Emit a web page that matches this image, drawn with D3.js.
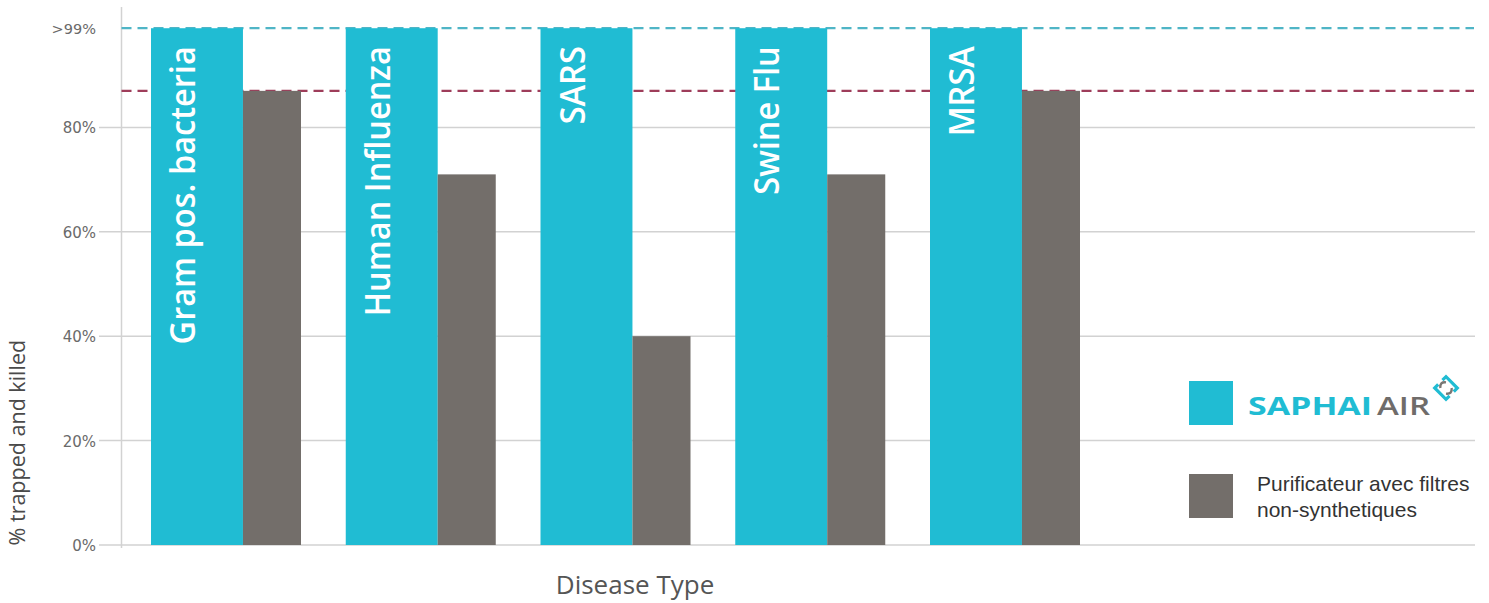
<!DOCTYPE html>
<html>
<head>
<meta charset="utf-8">
<script src="https://cdn.jsdelivr.net/npm/d3@7"></script>
<style>
  html, body { margin: 0; padding: 0; background: #fff; }
  svg { display: block; }
</style>
</head>
<body>
<svg id="chart" width="1489" height="603"></svg>
<script>
// ---- data ----
const categories = ["Gram pos. bacteria", "Human Influenza", "SARS", "Swine Flu", "MRSA"];
const saphaiValues = [99, 99, 99, 99, 99];
const otherValues = [87, 71, 40, 71, 87];
const tickValues = [0, 20, 40, 60, 80, 99];
const tickLabels = ["0%", "20%", "40%", "60%", "80%", ">99%"];
const refLines = [99, 87];
const seriesNames = ["SAPHAI AIR", "Purificateur avec filtres non-synthetiques"];
const yTitle = "% trapped and killed";
const xTitle = "Disease Type";

// ---- styles ----
const CYAN = "#20bcd3", GRAY = "#736e6a", GRID = "#d2d2d2";
const refColors = ["#4fb5c6", "#9e3d5a"];
const FONT = "'Open Sans', sans-serif";

const svg = d3.select("#chart");
const y = d3.scaleLinear().domain([0, 100]).range([545, 23]);
const x = d3.scaleBand().domain(categories).range([151, 1080]).paddingInner(0.2298).paddingOuter(0);
const cyanFrac = 0.613;
const cyanW = x.bandwidth() * cyanFrac;
const grayW = x.bandwidth() - cyanW;

// gridlines + tick marks (extend left of the axis)
const grid = svg.append("g");
grid.selectAll("line")
  .data(tickValues.filter(v => v < 99))
  .join("line")
  .attr("x1", 99).attr("x2", 1475)
  .attr("y1", d => y(d)).attr("y2", d => y(d))
  .attr("stroke", GRID).attr("stroke-width", 1.5);

// vertical axis line
svg.append("line")
  .attr("x1", 121.5).attr("x2", 121.5)
  .attr("y1", 7).attr("y2", y(0) + 3)
  .attr("stroke", GRID).attr("stroke-width", 1.5);

// tick labels
const yAxis = d3.axisLeft(y).tickValues(tickValues)
  .tickFormat((d, i) => tickLabels[i]).tickSize(0).tickPadding(0);
const gy = svg.append("g").attr("transform", "translate(96,0)").call(yAxis);
gy.select(".domain").remove();
gy.selectAll("text")
  .attr("font-family", "'DejaVu Sans', sans-serif").attr("font-size", 15)
  .attr("fill", "#6a6a6a").attr("dy", "0.36em");
gy.selectAll(".tick text").filter((d) => d === 99).attr("font-size", 14.5);

// dashed reference lines
svg.append("g").selectAll("line")
  .data(refLines)
  .join("line")
  .attr("x1", 121.5).attr("x2", 1474)
  .attr("y1", d => y(d)).attr("y2", d => y(d))
  .attr("stroke", (d, i) => refColors[i])
  .attr("stroke-width", 2.2)
  .attr("stroke-dasharray", "10,6");

// bars
const groups = svg.append("g").selectAll("g")
  .data(categories)
  .join("g");

groups.append("rect")
  .attr("x", d => x(d))
  .attr("width", cyanW)
  .attr("y", (d, i) => y(saphaiValues[i]))
  .attr("height", (d, i) => y(0) - y(saphaiValues[i]))
  .attr("fill", CYAN);

groups.append("rect")
  .attr("x", d => x(d) + cyanW)
  .attr("width", grayW)
  .attr("y", (d, i) => y(otherValues[i]))
  .attr("height", (d, i) => y(0) - y(otherValues[i]))
  .attr("fill", GRAY);

// rotated labels inside cyan bars
groups.append("text")
  .attr("transform", (d, i) => `translate(${x(d) + cyanW * 0.48},${y(saphaiValues[i]) + 18}) rotate(-90) scale(0.93,1)`)
  .attr("text-anchor", "end")
  .attr("font-family", FONT)
  .attr("font-weight", 600)
  .attr("font-size", 35)
  .attr("fill", "#ffffff")
  .text(d => d);

// axis titles
svg.append("text")
  .attr("transform", `translate(25,${(y(0) + y(40)) / 2 + 2}) rotate(-90)`)
  .attr("text-anchor", "middle")
  .attr("font-family", FONT).attr("font-size", 21.5)
  .attr("fill", "#4a4a4a")
  .text(yTitle);

svg.append("text")
  .attr("x", 635).attr("y", 594)
  .attr("text-anchor", "middle")
  .attr("font-family", FONT).attr("font-size", 26)
  .attr("fill", "#555")
  .text(xTitle);

// legend
const lg = svg.append("g");
lg.append("rect").attr("x", 1189).attr("y", 381).attr("width", 44).attr("height", 44).attr("fill", CYAN);
lg.append("rect").attr("x", 1189).attr("y", 474).attr("width", 44).attr("height", 44).attr("fill", GRAY);

const [brand1, brand2] = seriesNames[0].split(" ");
lg.append("text")
  .attr("x", 1248).attr("y", 415)
  .attr("font-family", FONT).attr("font-weight", 700).attr("font-size", 25)
  .attr("textLength", 124).attr("lengthAdjust", "spacingAndGlyphs")
  .attr("fill", CYAN).text(brand1);
lg.append("text")
  .attr("x", 1377).attr("y", 415)
  .attr("font-family", FONT).attr("font-weight", 600).attr("font-size", 25)
  .attr("textLength", 53).attr("lengthAdjust", "spacingAndGlyphs")
  .attr("fill", "#6f6c6a").text(brand2);

// small logo mark
const logo = lg.append("g").attr("transform", "translate(1446,388) rotate(45)");
logo.append("path")
  .attr("d", "M-8,-3 L-8,-8 L8,-8 L8,-3")
  .attr("fill", "none").attr("stroke", CYAN).attr("stroke-width", 3.2);
logo.append("path")
  .attr("d", "M8,3 L8,8 L-8,8 L-8,3")
  .attr("fill", "none").attr("stroke", CYAN).attr("stroke-width", 3.2);
logo.append("path")
  .attr("d", "M-4,-4 Q0,-9 4,-4 M-4,4 Q0,9 4,4")
  .attr("fill", "none").attr("stroke", "#7a7774").attr("stroke-width", 2.4)
  .attr("transform", "rotate(-90)");

const otherLines = ["Purificateur avec filtres", "non-synthetiques"];
lg.append("text")
  .attr("font-family", "'Liberation Sans', Arial, sans-serif")
  .attr("font-size", 21).attr("fill", "#333")
  .selectAll("tspan")
  .data(otherLines)
  .join("tspan")
  .attr("x", 1257)
  .attr("y", (d, i) => 491 + i * 26)
  .text(d => d);
</script>
</body>
</html>
